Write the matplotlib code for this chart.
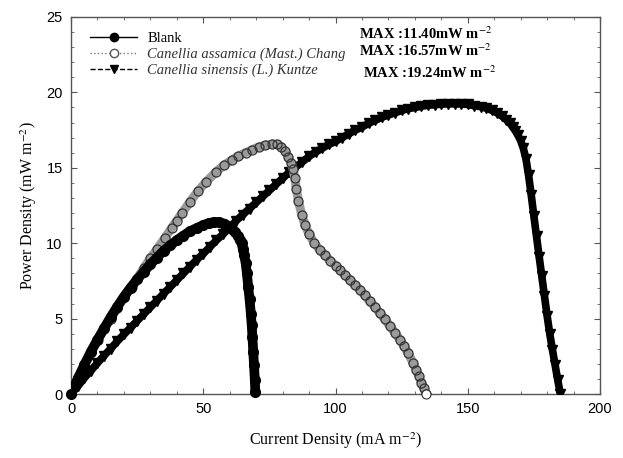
import numpy as np
import matplotlib
matplotlib.use("Agg")
import matplotlib.pyplot as plt
from matplotlib.lines import Line2D
from matplotlib.ticker import MultipleLocator

plt.rcParams["mathtext.fontset"] = "stix"

# power density curves (current density in mA m-2, power density in mW m-2)
blank_i = [0, 2.5, 5, 7.5, 10, 12.5, 15, 17.5, 20, 22.5, 25, 27.5, 30, 32.5, 35, 37.5, 40,
           42.5, 45, 47.5, 50, 52, 54, 56, 58, 60, 61, 62, 63, 64, 64.5, 65, 65.5, 66,
           66.5, 67, 67.5, 68, 68.3, 68.6, 68.9, 69.2, 69.5, 69.7]
blank_p = [0, 1.0, 1.9, 2.8, 3.6, 4.35, 5.1, 5.8, 6.45, 7.05, 7.6, 8.1, 8.6, 9.05, 9.5, 9.85, 10.2,
           10.5, 10.8, 11.0, 11.2, 11.33, 11.4, 11.38, 11.3, 11.1, 10.95, 10.75, 10.5, 10.2, 10.0, 9.6,
           9.2, 8.7, 8.0, 7.1, 6.3, 5.3, 4.6, 3.8, 2.8, 1.9, 0.9, 0.1]

assamica_i = [0, 2.8, 5, 7.5, 10.3, 12.5, 15, 17.5, 20, 22.9, 25, 27.5, 30, 32.5, 35.5, 38, 40,
              42, 45, 48, 51, 55, 58, 60.7, 63, 66, 68.5, 71, 73.5, 76, 78, 79.5, 81, 82.2,
              83.2, 84, 84.6, 85.2, 86, 87.2, 88.5, 90, 92, 94.1, 96, 98, 100, 101.7, 103.5,
              105.5, 107.5, 109.3, 111, 113, 115, 116.8, 118.7, 120.6, 122.5, 124.4, 126,
              127.5, 129.4, 130.5, 131.5, 132.5, 133.3, 134.2]
assamica_p = [0, 1.15, 2.0, 2.8, 3.6, 4.3, 5.0, 5.7, 6.4, 7.1, 7.65, 8.35, 9.0, 9.6, 10.35, 11.0, 11.5,
              12.0, 12.75, 13.45, 14.05, 14.75, 15.2, 15.5, 15.75, 16.0, 16.2, 16.38, 16.5, 16.57, 16.55, 16.4, 16.1, 15.7,
              15.3, 14.9, 14.3, 13.6, 12.8, 11.9, 11.2, 10.6, 10.0, 9.55, 9.2, 8.85, 8.5, 8.22, 7.9,
              7.55, 7.2, 6.9, 6.55, 6.15, 5.75, 5.35, 4.95, 4.5, 4.05, 3.58, 3.15,
              2.7, 2.03, 1.6, 1.2, 0.75, 0.4, 0.0]

sinensis_i = [0, 2.5, 5, 7.5, 10, 12.5, 15, 17.5, 20, 22.5, 25, 27.5, 30, 32.5, 35, 37.5, 40, 42.5,
              45, 47.5, 50, 52.5, 55, 57.5, 60, 62.5, 65, 67.5, 70, 72.5, 75, 77.5, 80, 82.5, 85,
              87.5, 90, 92.5, 95, 97.5, 100, 102.5, 105, 107.5, 110, 112.5, 115, 117.5, 120,
              122.5, 125, 127.5, 130, 132.5, 135, 137.5, 140, 142.5, 145, 147.5, 150, 152.5,
              155, 157, 159, 161, 163, 164.5, 166, 167, 168, 169, 170, 171, 172, 173, 174,
              175, 176, 177, 178, 179, 180, 181, 182, 183, 184, 185]
sinensis_p = [0, 0.5, 1.05, 1.55, 2.05, 2.55, 3.0, 3.5, 3.95, 4.4, 4.85, 5.3, 5.75, 6.2, 6.65, 7.1, 7.55, 8.0,
              8.45, 8.9, 9.3, 9.75, 10.2, 10.6, 11.05, 11.5, 11.9, 12.3, 12.7, 13.1, 13.5, 13.9, 14.3, 14.7, 15.05,
              15.4, 15.75, 16.05, 16.3, 16.55, 16.75, 17.0, 17.25, 17.5, 17.7, 17.95, 18.15, 18.35, 18.5,
              18.65, 18.8, 18.92, 19.0, 19.08, 19.15, 19.18, 19.22, 19.24, 19.24, 19.23, 19.2, 19.12,
              19.05, 18.95, 18.82, 18.65, 18.42, 18.2, 17.95, 17.7, 17.45, 17.15, 16.8, 16.3, 15.6, 14.5, 13.2,
              11.8, 10.45, 9.1, 7.8, 6.5, 5.2, 4.0, 2.95, 1.95, 0.95, 0.0]

labels = ["Blank",
          "Canellia assamica (Mast.) Chang",
          "Canellia sinensis (L.) Kuntze"]
max_text = ["MAX :11.40mW m$^{-2}$", "MAX :16.57mW m$^{-2}$", "MAX :19.24mW m$^{-2}$"]

fig = plt.figure(figsize=(6.23, 4.58), dpi=100, facecolor="white")
ax = fig.add_axes([71/623, 1 - 394/458, 529/623, 377/458])

# thick band under the dense markers
ax.plot(sinensis_i, sinensis_p, color="black", lw=5.5, solid_capstyle="round", zorder=2)
ax.plot(sinensis_i, sinensis_p, ls="none", marker="v", ms=7, color="black", zorder=3)

ax.plot(assamica_i, assamica_p, color="#9a9a9a", lw=6.5, solid_capstyle="round", zorder=4)
ax.plot(assamica_i, assamica_p, ls="none", marker="o", ms=6.5, mfc="none", mec="#333333",
        mew=0.9, zorder=5)
ax.plot(assamica_i[-1], assamica_p[-1], ls="none", marker="o", ms=6.5, mfc="white", mec="#333333",
        mew=0.8, zorder=7, clip_on=False)

ax.plot(blank_i, blank_p, color="black", lw=7, solid_capstyle="round", zorder=6)
ax.plot(blank_i, blank_p, ls="none", marker="o", ms=7, color="black", zorder=6, clip_on=False)

ax.set_xlim(0, 200)
ax.set_ylim(0, 25)
ax.xaxis.set_major_locator(MultipleLocator(50))
ax.xaxis.set_minor_locator(MultipleLocator(10))
ax.yaxis.set_major_locator(MultipleLocator(5))
ax.yaxis.set_minor_locator(MultipleLocator(1))
ax.tick_params(which="both", direction="in", top=True, right=True, color="#555555")
ax.tick_params(which="major", length=4, width=0.8, labelsize=10.5, pad=6)
ax.tick_params(which="minor", length=2.5, width=0.6)
for lab in ax.get_xticklabels() + ax.get_yticklabels():
    lab.set_fontfamily("Liberation Sans")
for sp in ax.spines.values():
    sp.set_color("#555555")
    sp.set_linewidth(1.0)

ax.set_xlabel("Current Density (mA m$^{-2}$)", family="Liberation Serif", fontsize=11.5, labelpad=10)
ax.set_ylabel("Power Density (mW m$^{-2}$)", family="Liberation Serif", fontsize=11.5, labelpad=5)

handles = [
    Line2D([], [], color="black", ls="-", lw=1.0, marker="o", ms=6),
    Line2D([], [], color="#777777", ls=":", lw=1.0, marker="o", ms=6, mfc="white", mec="#555555"),
    Line2D([], [], color="black", ls="--", lw=1.0, marker="v", ms=6),
]
leg = ax.legend(handles, labels, loc="upper left", bbox_to_anchor=(0.02, 0.985), frameon=False,
                prop={"family": "Liberation Serif", "size": 10.5}, handlelength=3.2,
                handletextpad=0.7, labelspacing=0.2, borderaxespad=0.2)
for t in leg.get_texts()[1:]:
    t.set_style("italic")
    t.set_color("#333333")

for k, (txt, y) in enumerate(zip(max_text, [0.955, 0.91, 0.853])):
    ax.text(0.545 if k < 2 else 0.552, y, txt, transform=ax.transAxes, family="Liberation Serif",
            fontsize=10.5, fontweight="bold", va="center", ha="left")

fig.savefig("out.png", dpi=100, facecolor="white")
